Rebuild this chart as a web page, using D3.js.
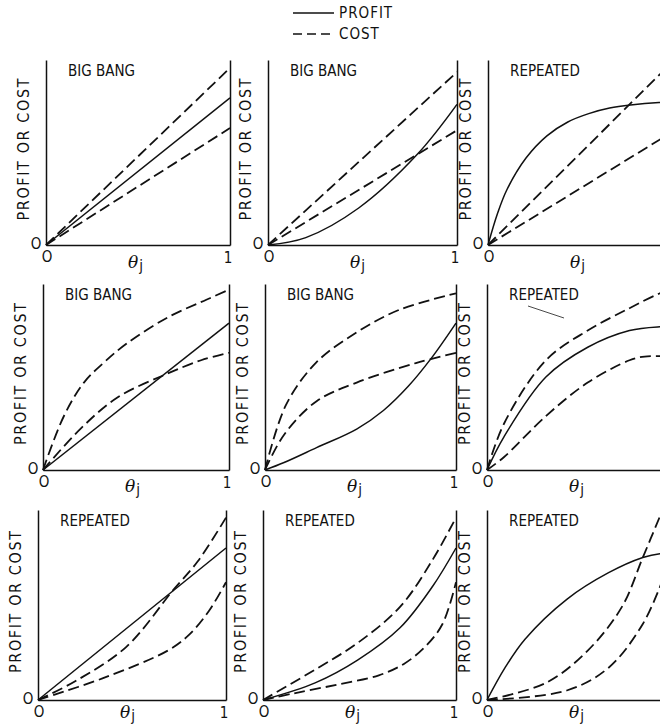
<!DOCTYPE html>
<html>
<head>
<meta charset="utf-8">
<script src="https://cdn.jsdelivr.net/npm/d3@7"></script>
<style>
body { margin: 0; background: #fff; }
svg { display: block; }
text { font-family: "DejaVu Sans Condensed", "Liberation Sans", sans-serif; fill: #111; }
</style>
</head>
<body>
<svg id="chart" width="660" height="728"></svg>
<script>
// panel titles, row by row
var TITLES = [
	["BIG BANG", "BIG BANG", "REPEATED"],
	["BIG BANG", "BIG BANG", "REPEATED"],
	["REPEATED", "REPEATED", "REPEATED"]
];

var LEGEND = [["profit", "PROFIT"], ["cost", "COST"]];

// curves per panel: [theta_j, profit or cost], scaled so the axis top is 1
var PANEL_11 = [
	{kind: "cost",   pts: [[0, 0], [1, 0.957]]},
	{kind: "profit", pts: [[0, 0], [1, 0.795]]},
	{kind: "cost",   pts: [[0, 0], [1, 0.632]]}
];
var PANEL_12 = [
	{kind: "cost",   pts: [[0, 0], [1, 0.935]]},
	{kind: "cost",   pts: [[0, 0], [1, 0.62]]},
	{kind: "profit", pts: [[0, 0], [0.2, 0.04], [0.48, 0.2], [0.79, 0.49], [1, 0.76]]}
];
var PANEL_13 = [
	{kind: "profit", pts: [[0, 0], [0.05, 0.17], [0.1, 0.3], [0.2, 0.47], [0.31, 0.59], [0.42, 0.665], [0.53, 0.71], [0.64, 0.74], [0.75, 0.757], [0.9, 0.77], [1, 0.772]]},
	{kind: "cost",   pts: [[0, 0], [1, 1.02]]},
	{kind: "cost",   pts: [[0, 0], [1, 0.63]]}
];
var PANEL_21 = [
	{kind: "cost",   pts: [[0, 0], [0.11, 0.285], [0.22, 0.47], [0.33, 0.58], [0.45, 0.68], [0.67, 0.82], [0.9, 0.925], [1, 0.97]]},
	{kind: "profit", pts: [[0, 0], [1, 0.79]]},
	{kind: "cost",   pts: [[0, 0], [0.2, 0.22], [0.4, 0.39], [0.65, 0.51], [0.85, 0.59], [1, 0.63]]}
];
var PANEL_22 = [
	{kind: "cost",   pts: [[0, 0], [0.11, 0.35], [0.27, 0.58], [0.48, 0.74], [0.7, 0.86], [1, 0.95]]},
	{kind: "cost",   pts: [[0, 0], [0.1, 0.19], [0.27, 0.37], [0.48, 0.47], [0.79, 0.575], [1, 0.63]]},
	{kind: "profit", pts: [[0, 0], [0.1, 0.04], [0.27, 0.12], [0.48, 0.22], [0.62, 0.32], [0.75, 0.45], [0.87, 0.6], [1, 0.79]]}
];
var PANEL_23 = [
	{kind: "cost",   pts: [[0, 0], [0.09, 0.25], [0.31, 0.59], [0.53, 0.75], [0.75, 0.87], [0.91, 0.95], [1, 0.98]]},
	{kind: "profit", pts: [[0, 0], [0.09, 0.18], [0.31, 0.5], [0.53, 0.66], [0.75, 0.75], [0.91, 0.77], [1, 0.77]]},
	{kind: "cost",   pts: [[0, 0], [0.09, 0.07], [0.31, 0.29], [0.53, 0.47], [0.75, 0.59], [0.83, 0.61], [1, 0.61]]}
];
var PANEL_31 = [
	{kind: "cost",   pts: [[0, 0], [0.2, 0.1], [0.47, 0.28], [0.72, 0.58], [0.85, 0.73], [1, 0.96]]},
	{kind: "profit", pts: [[0, 0], [1, 0.8]]},
	{kind: "cost",   pts: [[0, 0], [0.36, 0.12], [0.69, 0.26], [0.8, 0.34], [0.91, 0.47], [1, 0.62]]}
];
var PANEL_32 = [
	{kind: "cost",   pts: [[0, 0], [0.27, 0.16], [0.49, 0.3], [0.71, 0.49], [0.88, 0.74], [1, 0.96]]},
	{kind: "profit", pts: [[0, 0], [0.27, 0.09], [0.49, 0.21], [0.71, 0.38], [0.88, 0.6], [1, 0.8]]},
	{kind: "cost",   pts: [[0, 0], [0.16, 0.035], [0.38, 0.08], [0.6, 0.13], [0.73, 0.19], [0.84, 0.28], [0.93, 0.4], [1, 0.62]]}
];
var PANEL_33 = [
	{kind: "profit", pts: [[0, 0], [0.095, 0.17], [0.2, 0.32], [0.42, 0.53], [0.64, 0.67], [0.82, 0.75], [0.91, 0.77], [1, 0.77]]},
	{kind: "cost",   pts: [[0, 0], [0.31, 0.09], [0.53, 0.26], [0.71, 0.49], [0.82, 0.75], [0.92, 0.99]]},
	{kind: "cost",   pts: [[0, 0], [0.42, 0.05], [0.64, 0.17], [0.82, 0.4], [0.92, 0.62]]}
];

var PANELS = [
	[PANEL_11, PANEL_12, PANEL_13],
	[PANEL_21, PANEL_22, PANEL_23],
	[PANEL_31, PANEL_32, PANEL_33]
];

// layout of the scanned grid (slightly skewed, so each row has its own offsets)
var ROWS = [
	{top: 60,  base: 245, lefts: [46, 268, 488], rights: [230, 457, 678], thetaDy: 23},
	{top: 284, base: 470, lefts: [43, 265, 487], rights: [229, 456, 677], thetaDy: 22},
	{top: 510, base: 700, lefts: [38, 263, 487], rights: [226, 456, 677], thetaDy: 18}
];

var svg = d3.select("#chart");

// legend
var legend = svg.append("g").attr("class", "legend");
LEGEND.forEach(function(d, i)
{
	var y = 13 + i * 21;
	legend.append("line")
		.attr("x1", 293).attr("x2", 334)
		.attr("y1", y).attr("y2", y)
		.style("stroke", "#111")
		.style("stroke-width", d[0] == "cost" ? 1.6 : 1.4)
		.style("stroke-dasharray", d[0] == "cost" ? "9,5" : null);
	legend.append("text")
		.attr("x", 339).attr("y", y + 5)
		.style("font-size", "15px")
		.style("letter-spacing", "1px")
		.text(d[1]);
});

var line = d3.line().curve(d3.curveCatmullRom.alpha(0.5));

ROWS.forEach(function(row, r)
{
	for (var c = 0; c < 3; c++)
	{
		var x0 = row.lefts[c], x1 = row.rights[c];
		var x = d3.scaleLinear().domain([0, 1]).range([x0, x1]);
		var y = d3.scaleLinear().domain([0, 1]).range([row.base, row.top]);
		var g = svg.append("g").attr("class", "panel");

		// axes: no ticks, only the frame lines
		g.append("g")
			.attr("transform", "translate(0," + row.base + ")")
			.call(d3.axisBottom(x).tickValues([]).tickSizeOuter(0));
		g.append("g")
			.attr("transform", "translate(" + x0 + ",0)")
			.call(d3.axisLeft(y).tickValues([]).tickSizeOuter(0));
		if (c < 2)
		{
			g.append("g")
				.attr("transform", "translate(" + x1 + ",0)")
				.call(d3.axisRight(y).tickValues([]).tickSizeOuter(0));
		}
		g.selectAll(".domain").style("stroke", "#111").style("stroke-width", 1.5);

		// curves
		g.selectAll("path.curve")
			.data(PANELS[r][c])
			.enter().append("path")
			.attr("class", "curve")
			.attr("d", function(s) { return line(s.pts.map(function(p) { return [x(p[0]), y(p[1])]; })); })
			.style("fill", "none")
			.style("stroke", "#111")
			.style("stroke-width", function(s) { return s.kind == "cost" ? 1.8 : 1.5; })
			.style("stroke-dasharray", function(s) { return s.kind == "cost" ? "11,5" : null; });

		// title
		g.append("text")
			.attr("x", x0 + 22).attr("y", row.top + 16)
			.style("font-size", "15px")
			.text(TITLES[r][c]);

		// y label
		g.append("text")
			.attr("transform", "translate(" + (x0 - 17) + "," + ((row.top + row.base) / 2 - 3) + ") rotate(-90)")
			.attr("text-anchor", "middle")
			.attr("textLength", 142)
			.attr("lengthAdjust", "spacing")
			.style("font-size", "16px")
			.text("PROFIT OR COST");

		// zeros at the origin
		g.append("text")
			.attr("x", x0 - 10).attr("y", row.base + 4)
			.attr("text-anchor", "middle")
			.style("font-size", "15px")
			.text("O");
		g.append("text")
			.attr("x", x0 + 1).attr("y", row.base + 17)
			.attr("text-anchor", "middle")
			.style("font-size", "15px")
			.text("O");

		// theta_j
		var th = g.append("text")
			.attr("x", x0 + 82).attr("y", row.base + row.thetaDy)
			.style("font-size", "17px");
		th.append("tspan")
			.style("font-family", "'DejaVu Serif', serif")
			.style("font-style", "italic")
			.text("\u03b8");
		th.append("tspan")
			.attr("dx", 1).attr("dy", 3)
			.style("font-size", "15px")
			.text("j");

		// the "1" at the right end
		if (c < 2)
		{
			g.append("text")
				.attr("x", x1 - 2).attr("y", row.base + 18)
				.attr("text-anchor", "middle")
				.style("font-size", "15px")
				.text("1");
		}
	}
});

// stray pen stroke under the middle-right title in the scan
svg.append("line")
	.attr("x1", 528).attr("y1", 306)
	.attr("x2", 564).attr("y2", 318)
	.style("stroke", "#333")
	.style("stroke-width", 0.9);
</script>
</body>
</html>
